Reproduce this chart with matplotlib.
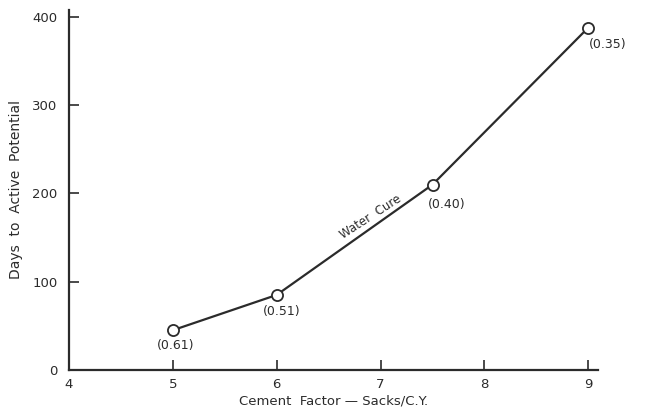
import matplotlib.pyplot as plt

cement_factor = [5, 6, 7.5, 9]
days = [45, 85, 210, 388]
wc_ratio = ['(0.61)', '(0.51)', '(0.40)', '(0.35)']
label_offsets = [(2, -11), (4, -12), (10, -14), (14, -12)]

ink = '#2b2b2b'
plt.rcParams['font.family'] = 'DejaVu Sans'

fig = plt.figure(figsize=(6.49, 4.12), dpi=100)
ax = fig.add_axes([0.106, 0.102, 0.815, 0.874])

ax.plot(cement_factor, days, 'o-', color=ink, linewidth=1.6,
        markersize=8, markerfacecolor='white', markeredgewidth=1.3, zorder=3)

for x, y, lab, (dx, dy) in zip(cement_factor, days, wc_ratio, label_offsets):
    ax.annotate(lab, xy=(x, y), xytext=(dx, dy), textcoords='offset points',
                ha='center', va='center', fontsize=9, color=ink)

ax.text(6.9, 174, 'Water  Cure', rotation=33, rotation_mode='anchor',
        ha='center', va='center', fontsize=8.5, color=ink)

ax.set_xlim(4, 9.09)
ax.set_ylim(0, 408)
ax.set_xticks([4, 5, 6, 7, 8, 9])
ax.set_yticks([0, 100, 200, 300, 400])
ax.tick_params(direction='in', length=7, width=1.2, colors=ink, labelsize=9.5)
ax.tick_params(axis='y', pad=8)
ax.tick_params(axis='x', pad=6)

for s in ['top', 'right']:
    ax.spines[s].set_visible(False)
for s in ['left', 'bottom']:
    ax.spines[s].set_linewidth(1.6)
    ax.spines[s].set_color(ink)

ax.set_xlabel('Cement  Factor \u2014 Sacks/C.Y.', fontsize=9.5, color=ink, labelpad=2)
ax.set_ylabel('Days  to  Active  Potential', fontsize=10, color=ink, labelpad=7)

fig.savefig('out.png', dpi=100)
